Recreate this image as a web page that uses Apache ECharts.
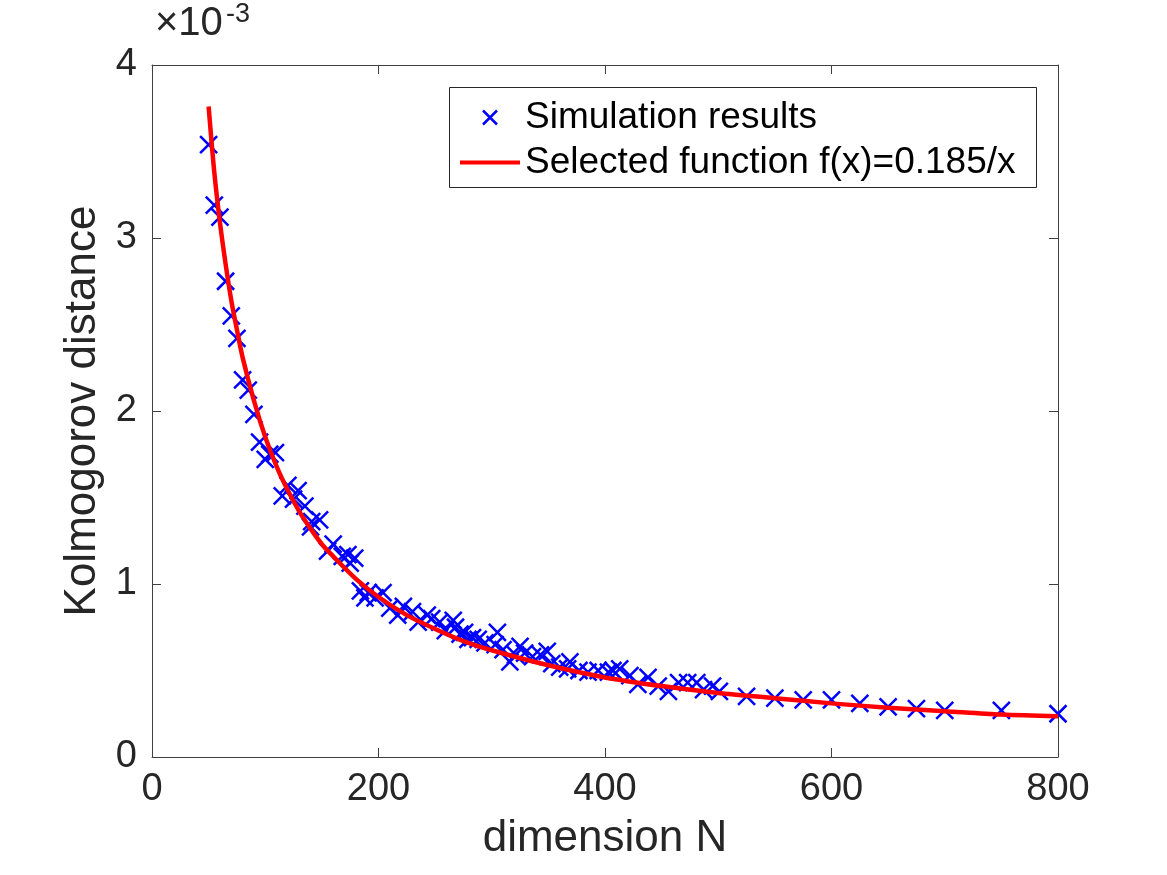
<!DOCTYPE html>
<html>
<head>
<meta charset="utf-8">
<script src="https://cdn.jsdelivr.net/npm/echarts@6/dist/echarts.min.js"></script>
<style>
  html, body { margin: 0; padding: 0; background: #fff; }
  #main { width: 1167px; height: 875px; }
</style>
</head>
<body>
<div id="main"></div>
<script>
// simulation results, [N, distance in 1e-3]
var simPoints = [
    [50, 3.54], [55, 3.19], [60, 3.12], [65, 2.75], [70, 2.55], [75, 2.42],
    [80, 2.18], [85, 2.12], [90, 1.98], [95, 1.82], [100, 1.72], [104, 1.75],
    [109, 1.76], [115, 1.51], [120, 1.57], [125, 1.49], [129, 1.54], [135, 1.45],
    [140, 1.33], [141, 1.36], [148, 1.37], [155, 1.19], [160, 1.23], [168, 1.16],
    [173, 1.17], [175, 1.12], [179, 1.15], [184, 0.96], [188, 0.92], [191, 0.95],
    [197, 0.92], [204, 0.95], [210, 0.86], [217, 0.82], [222, 0.87], [230, 0.84],
    [235, 0.78], [243, 0.82], [247, 0.80], [254, 0.78], [259, 0.73], [266, 0.79],
    [268, 0.75], [272, 0.71], [276, 0.72], [279, 0.68], [283, 0.69], [288, 0.68],
    [294, 0.66], [303, 0.65], [305, 0.72], [310, 0.62], [316, 0.55], [321, 0.59],
    [325, 0.64], [329, 0.60], [336, 0.58], [343, 0.59], [349, 0.61], [353, 0.54],
    [360, 0.52], [367, 0.51], [369, 0.55], [377, 0.50], [385, 0.49], [394, 0.50],
    [403, 0.49], [407, 0.50], [413, 0.51], [422, 0.47], [429, 0.42], [438, 0.46],
    [447, 0.41], [456, 0.38], [465, 0.43], [473, 0.43], [481, 0.43], [487, 0.39],
    [495, 0.41], [501, 0.38], [525, 0.35], [550, 0.34], [575, 0.33], [600, 0.33],
    [625, 0.31], [650, 0.29], [675, 0.28], [700, 0.27], [750, 0.27], [800, 0.25]
];

// red curve
var fitN = [50, 55, 60, 65, 70, 75, 80, 90, 100, 110, 120, 130, 140, 150, 160,
    180, 200, 225, 250, 275, 300, 350, 400, 450, 500, 550, 600, 650, 700, 750, 800];
var fitVal = [3.76, 3.38, 3.09, 2.85, 2.64, 2.47, 2.31, 2.06, 1.85, 1.68, 1.54,
    1.42, 1.32, 1.23, 1.16, 1.03, 0.925, 0.82, 0.74, 0.67, 0.617, 0.53, 0.46,
    0.41, 0.37, 0.34, 0.31, 0.285, 0.265, 0.245, 0.235];

var xTicks = [0, 200, 400, 600, 800];
var yTicks = [0, 1, 2, 3, 4];

var FONT = 'Liberation Sans, Arial, sans-serif';
var TXT = '#262626';
var AX = '#404040';
var CROSS = 'path://M0,0L10,10M10,0L0,10';
var BAR = 'path://M0,0L60,0L60,4L0,4Z';

function main() {
    var myChart = echarts.init(document.getElementById('main'));

    var fitData = fitN.map(function (n, i) { return [n, fitVal[i]]; });

    var option = {
        backgroundColor: '#ffffff',
        animation: false,
        grid: { left: 152, right: 109, top: 65, bottom: 118 },
        xAxis: [
            {
                type: 'value', position: 'bottom',
                min: xTicks[0], max: xTicks[xTicks.length - 1], interval: 200,
                splitLine: { show: false },
                axisLine: { show: true, onZero: false, lineStyle: { color: AX, width: 1 } },
                axisTick: { show: true, inside: true, length: 9, lineStyle: { color: AX } },
                name: 'dimension N', nameLocation: 'middle', nameGap: 60,
                nameTextStyle: { fontFamily: FONT, fontSize: 44, color: TXT },
                axisLabel: { fontFamily: FONT, fontSize: 38, color: TXT, margin: 14 }
            },
            {
                type: 'value', position: 'top',
                min: xTicks[0], max: xTicks[xTicks.length - 1], interval: 200,
                splitLine: { show: false },
                axisLine: { show: true, onZero: false, lineStyle: { color: AX, width: 1 } },
                axisTick: { show: true, inside: true, length: 9, lineStyle: { color: AX } },
                axisLabel: { show: false }
            }
        ],
        yAxis: [
            {
                type: 'value', position: 'left',
                min: yTicks[0], max: yTicks[yTicks.length - 1], interval: 1,
                splitLine: { show: false },
                axisLine: { show: true, onZero: false, lineStyle: { color: AX, width: 1 } },
                axisTick: { show: true, inside: true, length: 9, lineStyle: { color: AX } },
                name: 'Kolmogorov distance', nameLocation: 'middle', nameGap: 44,
                nameTextStyle: { fontFamily: FONT, fontSize: 44, color: TXT },
                axisLabel: { fontFamily: FONT, fontSize: 38, color: TXT, margin: 15 }
            },
            {
                type: 'value', position: 'right',
                min: yTicks[0], max: yTicks[yTicks.length - 1], interval: 1,
                splitLine: { show: false },
                axisLine: { show: true, onZero: false, lineStyle: { color: AX, width: 1 } },
                axisTick: { show: true, inside: true, length: 9, lineStyle: { color: AX } },
                axisLabel: { show: false }
            }
        ],
        legend: {
            left: 455, top: 94,
            orient: 'vertical',
            itemWidth: 60, itemHeight: 14, itemGap: 8,
            textStyle: { fontFamily: FONT, fontSize: 37, color: '#000' },
            data: [
                { name: 'Simulation results', icon: CROSS,
                  itemStyle: { color: 'rgba(0,0,0,0)', borderColor: '#0000ff', borderWidth: 2.5, opacity: 1 } },
                { name: 'Selected function f(x)=0.185/x', icon: BAR,
                  itemStyle: { color: '#ff0000', borderWidth: 0 } }
            ]
        },
        graphic: [
            { type: 'rect', shape: { x: 449.5, y: 87.5, width: 587, height: 100 },
              style: { fill: 'none', stroke: '#262626', lineWidth: 1 }, z: 1 },
            { type: 'text', left: 155, top: 4,
              style: { text: '×10', fontFamily: FONT, fontSize: 40, fill: TXT } },
            { type: 'text', left: 226, top: 1,
              style: { text: '-3', fontFamily: FONT, fontSize: 27, fill: TXT } }
        ],
        series: [
            {
                name: 'Simulation results',
                type: 'scatter',
                symbol: CROSS,
                symbolSize: 17,
                itemStyle: { color: 'rgba(0,0,0,0)', borderColor: '#0000ff', borderWidth: 2.5, opacity: 1 },
                data: simPoints,
                z: 3
            },
            {
                name: 'Selected function f(x)=0.185/x',
                type: 'line',
                smooth: 0.3,
                symbol: 'none',
                lineStyle: { color: '#ff0000', width: 4.5 },
                itemStyle: { color: '#ff0000' },
                data: fitData,
                z: 4
            },
            {
                // keeps the top and right frame axes alive
                name: 'frame',
                type: 'scatter',
                xAxisIndex: 1,
                yAxisIndex: 1,
                symbolSize: 0,
                silent: true,
                data: []
            }
        ]
    };

    myChart.setOption(option);
}

main();
</script>
</body>
</html>
